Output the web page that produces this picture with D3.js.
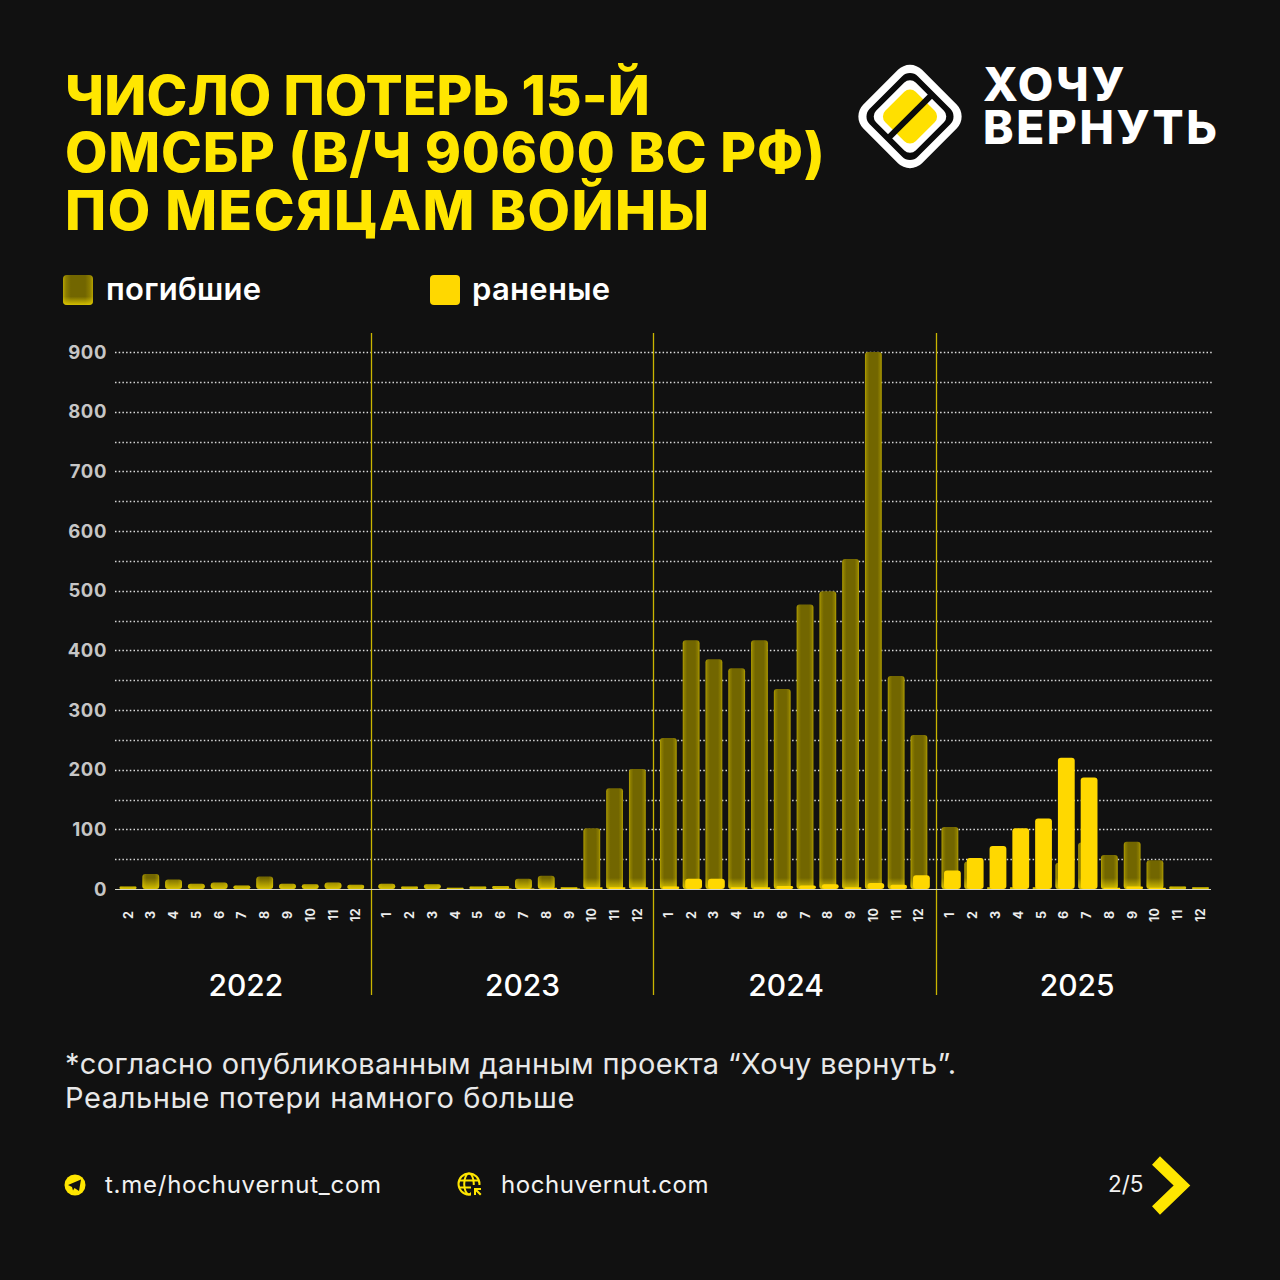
<!DOCTYPE html>
<html><head><meta charset="utf-8">
<script src="https://cdn.jsdelivr.net/npm/d3@7/dist/d3.min.js"></script>
<style>html,body{margin:0;padding:0;background:#111}svg{display:block}text{font-family:Inter,"Noto Sans",sans-serif}</style>
</head><body><svg id="c" width="1280" height="1280"></svg>
<script>
const years = [2022, 2023, 2024, 2025];
const yearMonths = [
  [2,3,4,5,6,7,8,9,10,11,12],
  [1,2,3,4,5,6,7,8,9,10,11,12],
  [1,2,3,4,5,6,7,8,9,10,11,12],
  [1,2,3,4,5,6,7,8,9,10,11,12]
];
const killed = [
  4,25,16,9,11,6,21,9,8,11,7,
  9,4,8,2,4,5,17,22,3,102,169,201,
  253,417,385,370,417,335,477,499,553,900,357,258,
  104,46,3,3,3,44,78,57,79,48,4,3
];
const wounded = [
  0,0,0,0,0,0,0,0,0,0,0,
  0,0,0,0,0,1,1,2,1,3,3,3,
  4,17,17,3,3,5,6,8,3,10,7,23,
  31,52,72,102,118,220,187,2,4,2,0,0
];
const yTicks = [0,100,200,300,400,500,600,700,800,900];
const yMinor = [50,150,250,350,450,550,650,750,850];
const titleLines = ["ЧИСЛО ПОТЕРЬ 15-Й","ОМСБР (В/Ч 90600 ВС РФ)","ПО МЕСЯЦАМ ВОЙНЫ"];
const noteLines = ["*согласно опубликованным данным проекта “Хочу вернуть”.","Реальные потери намного больше"];
const legendNames = ["погибшие","раненые"];

const svg = d3.select("#c");
const BG="#111111", YEL="#ffd800", TITLE="#ffe600";
svg.append("rect").attr("width",1280).attr("height",1280).attr("fill",BG);
const defs = svg.append("defs");

const rows=[]; yearMonths.forEach((ms,yi)=>ms.forEach(m=>rows.push({yi,m})));
rows.forEach((r,i)=>{r.k=killed[i];r.w=wounded[i];r.pos=i+r.yi*0.36;});
const x = d3.scaleLinear().domain([0,rows[rows.length-1].pos]).range([128,1200.5]);
const y = d3.scaleLinear().domain([0,900]).range([889,352]);

const side = defs.append("linearGradient").attr("id","side").attr("x1",0).attr("x2",1).attr("y1",0).attr("y2",0);
[[0,"#b5a200"],[0.1,"#8c7d00"],[0.26,"#726600"],[0.74,"#726600"],[0.9,"#8c7d00"],[1,"#b5a200"]].forEach(s=>side.append("stop").attr("offset",s[0]).attr("stop-color",s[1]));
const base = defs.append("linearGradient").attr("id","base").attr("gradientUnits","userSpaceOnUse").attr("x1",0).attr("x2",0).attr("y1",y(0)-11).attr("y2",y(0));
base.append("stop").attr("offset",0).attr("stop-color","#e6cf00").attr("stop-opacity",0);
base.append("stop").attr("offset",1).attr("stop-color","#e6cf00").attr("stop-opacity",0.85);
const legSide = defs.append("linearGradient").attr("id","legbase").attr("x1",0).attr("x2",0).attr("y1",0).attr("y2",1);
legSide.append("stop").attr("offset",0.72).attr("stop-color","#e6cf00").attr("stop-opacity",0);
legSide.append("stop").attr("offset",1).attr("stop-color","#e6cf00").attr("stop-opacity",0.85);

// title
const titleSpacing=[0.1,0.8,1.5];
svg.append("g").selectAll("text").data(titleLines).join("text")
  .attr("x",65).attr("y",(d,i)=>114.5+i*57.5).attr("fill",TITLE)
  .attr("font-size",55).attr("font-weight",800).attr("letter-spacing",(d,i)=>titleSpacing[i]).text(d=>d);

// logo
const logo = svg.append("g").attr("transform","translate(910,116.5) rotate(45)");
[[83,17,"#fff"],[68,11,"#0a0a0a"],[56,8,"#fff"],[43,8,"#ffe000"]].forEach(a=>{
  logo.append("rect").attr("x",-a[0]/2).attr("y",-a[0]/2).attr("width",a[0]).attr("height",a[0]).attr("rx",a[1]).attr("fill",a[2]);
});
logo.append("rect").attr("x",-3).attr("y",-30).attr("width",6).attr("height",60).attr("fill","#0a0a0a");
svg.append("g").selectAll("text").data(["ХОЧУ","ВЕРНУТЬ"]).join("text")
  .attr("x",983).attr("y",(d,i)=>100.5+i*43).attr("fill","#fff").attr("font-size",46).attr("font-weight",800).attr("letter-spacing",2.6).text(d=>d);

// legend
legendNames.forEach((n,i)=>{
  const lx=[63,430][i], tx=[106,472][i];
  if(i===0){
    svg.append("rect").attr("x",63).attr("y",275).attr("width",30).attr("height",30).attr("rx",4).attr("fill","url(#side)");
    svg.append("rect").attr("x",63).attr("y",275).attr("width",30).attr("height",30).attr("rx",4).attr("fill","url(#legbase)");
  } else {
    svg.append("rect").attr("x",lx).attr("y",275).attr("width",30).attr("height",30).attr("rx",4).attr("fill",YEL);
  }
  svg.append("text").attr("x",tx).attr("y",300).attr("fill","#fff").attr("font-size",31).attr("font-weight",600).attr("letter-spacing",0.3).text(n);
});

// grid
const grid = svg.append("g");
grid.selectAll("line.minor").data(yMinor).join("line").attr("class","minor")
  .attr("x1",115).attr("x2",1213).attr("y1",d=>Math.round(y(d))+.5).attr("y2",d=>Math.round(y(d))+.5)
  .attr("stroke","#d6d6d6").attr("stroke-width",1.5).attr("stroke-dasharray","1.5 2.2");
grid.selectAll("line.major").data(yTicks.filter(d=>d>0)).join("line").attr("class","major")
  .attr("x1",115).attr("x2",1213).attr("y1",d=>Math.round(y(d))+.5).attr("y2",d=>Math.round(y(d))+.5)
  .attr("stroke","#dedede").attr("stroke-width",1.5).attr("stroke-dasharray","1.5 2.2");
svg.append("g").selectAll("text").data(yTicks).join("text")
  .attr("x",107).attr("y",d=>y(d)+6.5).attr("text-anchor","end").attr("fill","#c6c6c6")
  .attr("font-size",18.5).attr("font-weight",700).attr("letter-spacing",0.6).text(d=>d);

// year separators
const sepNudge=[0,0,1.5];
const sepPos=[1,2,3].map((yi,k)=>{
  const i=rows.findIndex(r=>r.yi===yi);
  return (x(rows[i].pos)+x(rows[i-1].pos))/2+sepNudge[k];
});
svg.append("g").selectAll("line").data(sepPos).join("line")
  .attr("x1",d=>Math.round(d)+.5).attr("x2",d=>Math.round(d)+.5).attr("y1",333).attr("y2",995)
  .attr("stroke","#c9b500").attr("stroke-width",1.3);

// bars
const bw=16.8, off=2.5;
const kb=svg.append("g");
const kd=rows.filter(r=>r.k>0);
kb.selectAll("rect.k").data(kd).join("rect").attr("class","k")
  .attr("x",d=>x(d.pos)-bw/2).attr("width",bw).attr("y",d=>y(d.k)).attr("height",d=>y(0)-y(d.k))
  .attr("rx",d=>Math.min(3,(y(0)-y(d.k))/2)).attr("fill","url(#side)");
kb.selectAll("rect.g").data(kd).join("rect").attr("class","g")
  .attr("x",d=>x(d.pos)-bw/2).attr("width",bw).attr("y",d=>y(d.k)).attr("height",d=>y(0)-y(d.k))
  .attr("rx",d=>Math.min(3,(y(0)-y(d.k))/2)).attr("fill","url(#base)");
svg.append("g").selectAll("rect").data(rows.filter(r=>r.w>0)).join("rect")
  .attr("x",d=>x(d.pos)-bw/2+off).attr("width",bw).attr("y",d=>y(d.w)).attr("height",d=>y(0)-y(d.w))
  .attr("rx",d=>Math.min(3,(y(0)-y(d.w))/2)).attr("fill",YEL);
svg.append("line").attr("x1",115).attr("x2",1211).attr("y1",889.5).attr("y2",889.5).attr("stroke","#d8d8c8").attr("stroke-width",1.2);

// month labels
svg.append("g").selectAll("text").data(rows).join("text")
  .attr("transform",d=>`translate(${x(d.pos)+4.5},915) rotate(-90)`)
  .attr("text-anchor","middle").attr("fill","#ececec").attr("font-size",12.5).attr("font-weight",700).text(d=>d.m);

// year labels
const yearCenters=years.map((yr,yi)=>{
  const p=rows.filter(r=>r.yi===yi);
  return {yr,cx:(x(p[0].pos)+x(p[p.length-1].pos))/2};
});
svg.append("g").selectAll("text").data(yearCenters).join("text")
  .attr("x",(d,i)=>d.cx+[4,10.5,-7.5,2][i]).attr("y",996).attr("text-anchor","middle").attr("fill","#fff")
  .attr("font-size",30).attr("font-weight",500).text(d=>d.yr);

// note
const noteSpacing=[0.34,0.6];
svg.append("g").selectAll("text").data(noteLines).join("text")
  .attr("x",65).attr("y",(d,i)=>1074+i*34).attr("fill","#e8e8e8").attr("font-size",29).attr("font-weight",400).attr("letter-spacing",(d,i)=>noteSpacing[i]).text(d=>d);

// footer
svg.append("circle").attr("cx",75).attr("cy",1185).attr("r",10.5).attr("fill",TITLE);
svg.append("path").attr("d","M68 1185 L81 1179.5 L79 1191 L74.5 1188 L73 1190.5 L72 1187 Z").attr("fill",BG);
svg.append("text").attr("x",105).attr("y",1193).attr("fill","#f2f2f2").attr("font-size",24).attr("letter-spacing",0.75).text("t.me/hochuvernut_com");
const gl=svg.append("g").attr("fill","none").attr("stroke",TITLE).attr("stroke-width",2);
gl.append("circle").attr("cx",469).attr("cy",1184).attr("r",10.5);
gl.append("ellipse").attr("cx",469).attr("cy",1184).attr("rx",4.8).attr("ry",10.5);
gl.append("path").attr("d","M459 1180.5H479M459 1187.5H479");
svg.append("rect").attr("x",471).attr("y",1185).attr("width",12).attr("height",12).attr("fill",BG);
svg.append("path").attr("d","M474 1188h7v2h-3.5l4 4-1.5 1.5-4-4V1195h-2z").attr("fill",TITLE);
svg.append("text").attr("x",501).attr("y",1193).attr("fill","#f2f2f2").attr("font-size",24).attr("letter-spacing",0.58).text("hochuvernut.com");
svg.append("text").attr("x",1108).attr("y",1192).attr("fill","#f2f2f2").attr("font-size",22.5).text("2/5");
svg.append("path").attr("d","M1156 1160.5 L1182 1185.5 L1156 1210.5").attr("fill","none").attr("stroke",TITLE).attr("stroke-width",11.5).attr("stroke-linejoin","miter");
</script></body></html>
